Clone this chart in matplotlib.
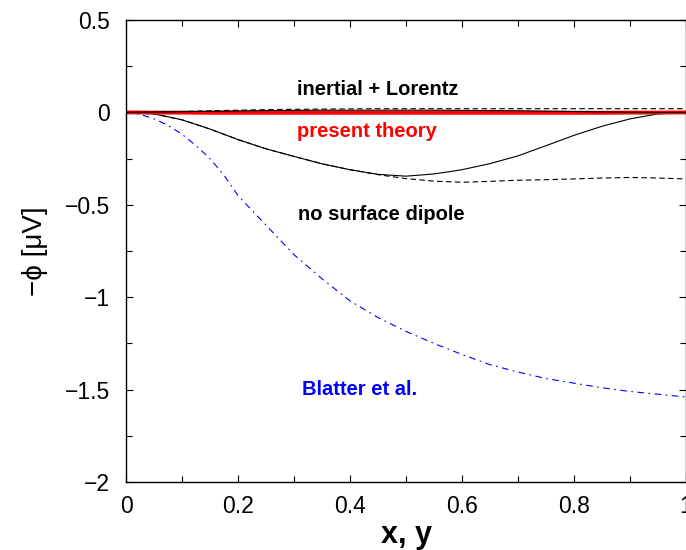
import matplotlib
matplotlib.use('Agg')
import matplotlib.pyplot as plt

plt.rcParams['font.family'] = ['Liberation Sans', 'DejaVu Sans']

# positions along the wire (x, y)
x = [0, 0.05, 0.1, 0.15, 0.2, 0.25, 0.3, 0.35, 0.4, 0.45, 0.5,
     0.55, 0.6, 0.65, 0.7, 0.75, 0.8, 0.85, 0.9, 0.95, 1.0]

# present theory (red)
present = [0, -0.001, -0.001, -0.002, -0.002, -0.002, -0.002, -0.002, -0.002, -0.002, -0.002,
           -0.002, -0.002, -0.002, -0.002, -0.002, -0.002, -0.002, -0.001, -0.001, 0]

# inertial + Lorentz, solid and dashed
inert_solid = [0, 0.002, 0.004, 0.006, 0.008, 0.01, 0.011, 0.012, 0.012, 0.012, 0.012,
               0.012, 0.011, 0.01, 0.009, 0.007, 0.005, 0.003, 0.001, 0, 0]
inert_dash = [0, 0.002, 0.005, 0.009, 0.012, 0.015, 0.017, 0.018, 0.019, 0.02, 0.02,
              0.02, 0.02, 0.02, 0.02, 0.02, 0.02, 0.02, 0.02, 0.02, 0.02]

# no surface dipole, solid and dashed
nodip_solid = [0, -0.008, -0.04, -0.09, -0.147, -0.197, -0.238, -0.278, -0.31, -0.335, -0.345,
               -0.333, -0.31, -0.277, -0.235, -0.18, -0.124, -0.075, -0.035, -0.008, 0]
nodip_dash = [0, -0.008, -0.04, -0.09, -0.147, -0.197, -0.238, -0.278, -0.31, -0.337, -0.358,
              -0.372, -0.378, -0.373, -0.367, -0.364, -0.36, -0.355, -0.352, -0.355, -0.36]

# Blatter et al.
xb = [0, 0.025, 0.05, 0.075, 0.1, 0.125, 0.15, 0.175, 0.2, 0.25, 0.3, 0.35, 0.4, 0.45, 0.5,
      0.55, 0.6, 0.65, 0.7, 0.75, 0.8, 0.85, 0.9, 0.95, 1.0]
blatter = [0, -0.01, -0.035, -0.07, -0.118, -0.18, -0.25, -0.34, -0.45, -0.61, -0.77, -0.9,
           -1.02, -1.11, -1.185, -1.25, -1.31, -1.365, -1.405, -1.44, -1.465, -1.49, -1.51,
           -1.525, -1.54]

xticks = [0, 0.2, 0.4, 0.6, 0.8, 1.0]
xtick_labels = ['0', '0.2', '0.4', '0.6', '0.8', '1']
yticks = [-2, -1.5, -1, -0.5, 0, 0.5]
ytick_labels = ['\u22122', '\u22121.5', '\u22121', '\u22120.5', '0', '0.5']

fig = plt.figure(figsize=(6.86, 5.5), dpi=100)
ax = fig.add_axes([0.1837, 0.1236, 0.8163, 0.84])

ax.plot(xb, blatter, color='blue', lw=0.8, dashes=(6, 4, 1.5, 4))
ax.plot(x, nodip_dash, color='black', lw=0.8, dashes=(5, 3))
ax.plot(x, nodip_solid, color='black', lw=0.8)
ax.plot(x, present, color='red', lw=2.8)
ax.plot(x, inert_dash, color='black', lw=0.8, dashes=(5, 3))
ax.plot(x, inert_solid, color='black', lw=0.8)

ax.text(0.305, 0.124, 'inertial + Lorentz', fontsize=14.5, fontweight='bold', color='black', va='center')
ax.text(0.305, -0.103, 'present theory', fontsize=14.5, fontweight='bold', color='red', va='center')
ax.text(0.308, -0.552, 'no surface dipole', fontsize=14.5, fontweight='bold', color='black', va='center')
ax.text(0.315, -1.50, 'Blatter et al.', fontsize=14.5, fontweight='bold', color='blue', va='center')

ax.set_xlim(0, 1)
ax.set_ylim(-2, 0.5)
ax.set_xticks(xticks)
ax.set_xticklabels(xtick_labels)
ax.set_xticks([0.1, 0.3, 0.5, 0.7, 0.9], minor=True)
ax.set_yticks(yticks)
ax.set_yticklabels(ytick_labels)
ax.set_yticks([-1.75, -1.25, -0.75, -0.25, 0.25], minor=True)
ax.tick_params(which='both', direction='in', top=True, right=True, labelsize=16.5, width=0.8)
ax.tick_params(which='major', length=5)
ax.tick_params(which='minor', length=4)
ax.tick_params(axis='x', which='major', pad=9.5)
ax.tick_params(axis='y', which='major', pad=11.5)
for s in ax.spines.values():
    s.set_linewidth(1.0)

ax.set_xlabel('x, y', fontsize=22, fontweight='bold', labelpad=1)
ax.set_ylabel('\u2212\u03d5 [\u03bcV]', fontsize=20, labelpad=12)

fig.savefig('out.png', dpi=100)
